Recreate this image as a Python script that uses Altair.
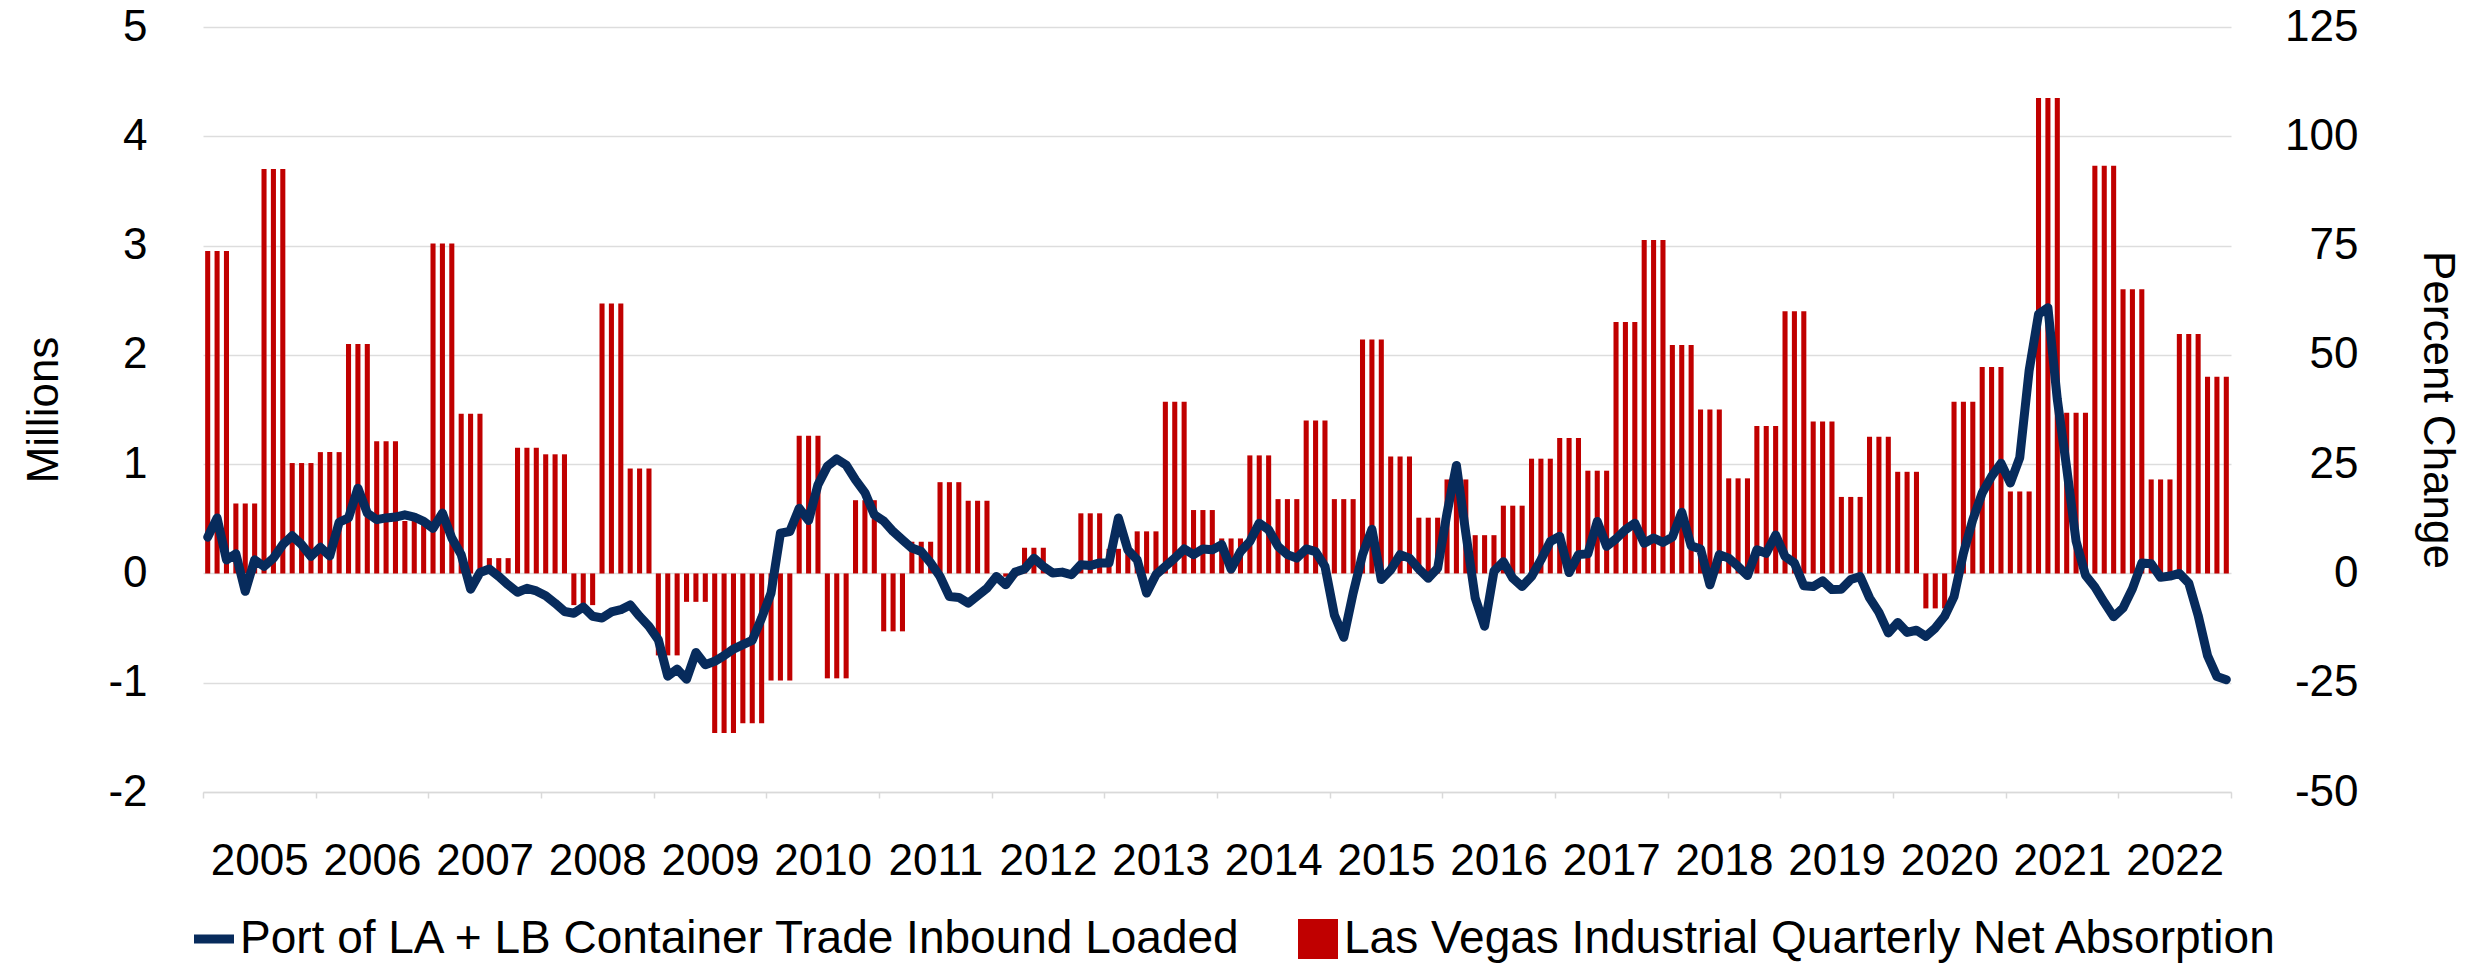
import altair as alt
import pandas as pd

NAVY = "#072B5C"
RED = "#C00000"
FONT = "Liberation Sans"

SERIES = ["Port of LA + LB Container Trade Inbound Loaded",
          "Las Vegas Industrial Quarterly Net Absorption"]

# Monthly percent change (right axis), Jan 2005 .. Dec 2022
line_2005 = [8.3, 12.7, 3.1, 4.5, -4.1, 3.1, 1.6, 3.5, 6.6, 8.6, 6.6, 3.9]
line_2006 = [6.0, 4.0, 11.7, 12.7, 19.5, 13.8, 12.3, 12.7, 12.9, 13.4, 12.9, 11.9]
line_2007 = [10.3, 13.8, 8.1, 4.3, -3.6, 0.2, 1.0, -0.7, -2.6, -4.3, -3.4, -4.0]
line_2008 = [-5.1, -6.8, -8.7, -9.1, -7.7, -9.8, -10.2, -8.8, -8.3, -7.2, -9.8, -12.1]
line_2009 = [-15.2, -23.5, -21.9, -24.2, -18.1, -20.9, -20.1, -18.8, -17.3, -16.3, -15.3, -10.2]
line_2010 = [-4.5, 9.2, 9.6, 14.9, 12.1, 20.3, 24.5, 26.2, 24.8, 21.4, 18.5, 13.4]
line_2011 = [12.0, 9.6, 7.7, 5.8, 5.0, 2.4, -0.7, -5.3, -5.5, -6.8, -5.1, -3.4]
line_2012 = [-0.7, -2.6, 0.3, 1.0, 3.5, 1.6, 0.1, 0.3, -0.3, 2.0, 1.8, 2.4]
line_2013 = [2.4, 12.7, 5.4, 3.1, -4.5, -0.3, 1.6, 3.5, 5.6, 4.3, 5.6, 5.4]
line_2014 = [6.6, 1.0, 5.0, 7.3, 11.5, 10.0, 6.2, 4.3, 3.5, 5.6, 5.0, 1.6]
line_2015 = [-9.5, -14.6, -4.5, 4.3, 10.1, -1.4, 0.8, 4.3, 3.5, 1.0, -1.1, 1.2]
line_2016 = [13.8, 24.7, 9.2, -5.6, -12.1, 0.5, 2.7, -1.1, -3.0, -0.7, 3.1, 7.3]
line_2017 = [8.5, 0.2, 4.3, 4.5, 11.9, 6.2, 7.9, 10.0, 11.5, 6.9, 8.1, 7.1]
line_2018 = [8.3, 14.0, 6.3, 5.6, -2.6, 4.3, 3.5, 1.6, -0.5, 5.4, 4.6, 8.8]
line_2019 = [3.9, 2.4, -2.8, -3.0, -1.7, -3.7, -3.6, -1.4, -0.7, -5.6, -8.9, -13.6]
line_2020 = [-11.2, -13.5, -13.0, -14.4, -12.5, -9.8, -5.3, 4.6, 12.3, 18.4, 22.2, 25.2]
line_2021 = [20.7, 26.5, 46.4, 59.3, 60.8, 39.8, 24.1, 7.4, -0.4, -3.1, -6.6, -9.9]
line_2022 = [-7.9, -3.5, 2.4, 2.2, -0.9, -0.6, 0.0, -2.2, -9.6, -18.8, -23.6, -24.3]

# Quarterly net absorption in millions (left axis), Q1 2005 .. Q4 2022
bars_q = [
    2.95, 0.64, 3.70, 1.01,
    1.11, 2.10, 1.21, 0.48,
    3.02, 1.46, 0.14, 1.15,
    1.09, -0.29, 2.47, 0.96,
    -0.75, -0.26, -1.46, -1.37,
    -0.98, 1.26, -0.96, 0.67,
    -0.53, 0.29, 0.835, 0.665,
    -0.03, 0.235, 0.02, 0.55,
    0.225, 0.385, 1.57, 0.58,
    0.32, 1.08, 0.68, 1.40,
    0.68, 2.14, 1.07, 0.51,
    0.86, 0.35, 0.62, 1.05,
    1.24, 0.94, 2.30, 3.05,
    2.09, 1.50, 0.87, 1.35,
    2.40, 1.39, 0.70, 1.25,
    0.93, -0.32, 1.57, 1.89,
    0.75, 4.35, 1.47, 3.73,
    2.60, 0.86, 2.19, 1.80,
]

line_pct = (line_2005 + line_2006 + line_2007 + line_2008 + line_2009 + line_2010
            + line_2011 + line_2012 + line_2013 + line_2014 + line_2015 + line_2016
            + line_2017 + line_2018 + line_2019 + line_2020 + line_2021 + line_2022)

FIRST_YEAR = 2005
N = len(line_pct)
months = list(range(N))
df = pd.DataFrame({
    "m": months,
    "pct": line_pct,
    "absorb": [bars_q[i // 3] for i in months],
})

x_scale = alt.Scale(domain=[0, N], nice=False, zero=False)
x_axis = alt.Axis(
    values=list(range(0, N + 1, 12)),
    labelExpr=f"datum.value < {N} ? toString({FIRST_YEAR} + datum.value / 12) : ''",
    labelOffset=56.3,
    labelFlush=False,
    labelOverlap=False,
    labelFontSize=44,
    labelPadding=41,
    tickSize=6,
    tickColor="#D9D9D9",
    tickWidth=1.5,
    domainColor="#D9D9D9",
    domainWidth=1.3,
    grid=False,
    title=None,
)

bars = alt.Chart(df).transform_calculate(
    x0="datum.m + 0.23", x1="datum.m + 0.77", zero="0"
).mark_bar(color=RED).encode(
    x=alt.X("x0:Q", scale=x_scale, axis=x_axis, title=None),
    x2="x1:Q",
    y=alt.Y("absorb:Q", scale=alt.Scale(domain=[-2, 5], nice=False),
            axis=alt.Axis(orient="left", values=list(range(-2, 6)), grid=True,
                          gridColor="#DDDDDD", gridWidth=1.3, ticks=False, domain=False,
                          labelExpr="toString(datum.value)",
                          labelFontSize=44, labelPadding=56, title="Millions",
                          titleFontSize=44, titleFontWeight="normal", titlePadding=41)),
    y2="zero:Q",
)

line = alt.Chart(df).transform_calculate(mc="datum.m + 0.5").mark_line(
    color=NAVY, strokeWidth=9, strokeJoin="round", strokeCap="round"
).encode(
    x=alt.X("mc:Q", scale=x_scale, axis=x_axis, title=None),
    y=alt.Y("pct:Q", scale=alt.Scale(domain=[-50, 125], nice=False),
            axis=alt.Axis(orient="right", values=list(range(-50, 126, 25)), grid=False,
                          ticks=False, domain=False, labelFontSize=44, labelAlign="right",
                          labelExpr="toString(datum.value)",
                          labelPadding=127, title="Percent Change", titleFontSize=44,
                          titleFontWeight="normal", titlePadding=56)),
)

LINE_PATH = "M-1,-0.225L1,-0.225L1,0.225L-1,0.225Z"
SQ_PATH = "M-1,-1L1,-1L1,1L-1,1Z"
leg = alt.Legend(orient="none", legendX=-12, legendY=889, direction="horizontal",
                 title=None, labelFontSize=46, labelFont=FONT, labelColor="black",
                 labelLimit=1500, symbolSize=1600, symbolStrokeWidth=0,
                 labelOffset=3, columnPadding=52)

legend_layer = alt.Chart(pd.DataFrame({"series": SERIES})).transform_filter(
    "datum.series == 'none'"
).mark_point(filled=True, size=1600, opacity=1).encode(
    x=alt.value(0),
    y=alt.value(0),
    color=alt.Color("series:N", scale=alt.Scale(domain=SERIES, range=[NAVY, RED]), legend=leg),
    shape=alt.Shape("series:N", scale=alt.Scale(domain=SERIES, range=[LINE_PATH, SQ_PATH]), legend=leg),
)

chart = alt.layer(bars, line, legend_layer).resolve_scale(y="independent").properties(
    width=2028, height=765,
    autosize=alt.AutoSizeParams(type="none"),
    padding={"left": 195, "top": 19, "right": 240, "bottom": 172},
).configure_view(stroke=None).configure_axis(
    labelFont=FONT, titleFont=FONT, labelColor="black", titleColor="black"
).configure_legend(labelFont=FONT)

chart.save("out.html", embed_options={"renderer": "svg", "actions": False})
